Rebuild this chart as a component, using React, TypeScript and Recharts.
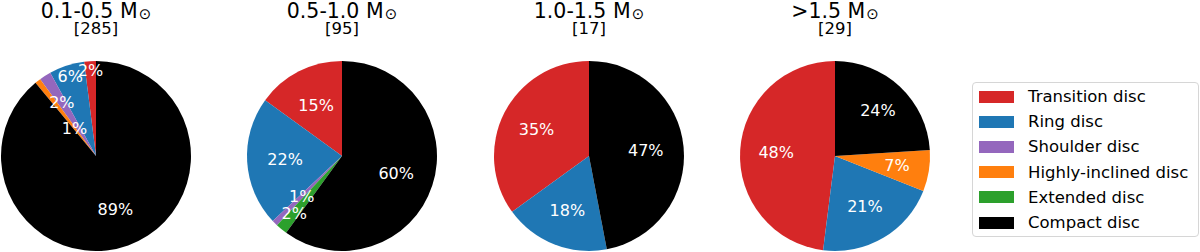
import { Cell, Pie, PieChart } from 'recharts';

const categories = [
  'Transition disc',
  'Ring disc',
  'Shoulder disc',
  'Highly-inclined disc',
  'Extended disc',
  'Compact disc',
];
const colors = ['#d62728', '#1f77b4', '#9467bd', '#ff7f0e', '#2ca02c', '#000000'];

const massBins = ['0.1-0.5', '0.5-1.0', '1.0-1.5', '>1.5'];
const sampleSizes = [285, 95, 17, 29];

// percentages per mass bin, same order as categories
const bin1 = [2, 6, 2, 1, 0, 89];
const bin2 = [15, 22, 1, 0, 2, 60];
const bin3 = [35, 18, 0, 0, 0, 47];
const bin4 = [48, 21, 0, 7, 0, 24];
const bins = [bin1, bin2, bin3, bin4];

// radial position of the % labels (fraction of radius), small wedges pushed around
const labelDist = [
  [0.9, 0.88, 0.67, 0.37, 0.6, 0.6],
  [0.6, 0.6, 0.6, 0.6, 0.79, 0.6],
  [0.62, 0.62, 0.6, 0.6, 0.6, 0.6],
  [0.62, 0.62, 0.6, 0.66, 0.6, 0.66],
];

const centersX = [96, 342, 589, 835];
const CY = 156;
const R = 95;
const FONT = '"DejaVu Sans", Verdana, sans-serif';
const RAD = Math.PI / 180;

function PctLabel(props: any) {
  const { cx, cy, midAngle, outerRadius, value } = props;
  const dist = props.payload?.dist ?? props.dist ?? 0.6;
  const r = outerRadius * dist;
  const x = cx + r * Math.cos(-midAngle * RAD);
  const y = cy + r * Math.sin(-midAngle * RAD);
  return (
    <text x={x} y={y} fill="#fff" fontSize={16} fontFamily={FONT} textAnchor="middle" dominantBaseline="central">
      {`${value}%`}
    </text>
  );
}

export default function App() {
  return (
    <div style={{ position: 'absolute', left: 0, top: 0, width: 1200, height: 252, background: '#fff' }}>
      <PieChart width={1200} height={252} margin={{ top: 0, right: 0, bottom: 0, left: 0 }}>
        {bins.map((vals, i) => {
          const rows = vals
            .map((v, k) => ({ name: categories[k], value: v, color: colors[k], dist: labelDist[i][k] }))
            .filter((d) => d.value > 0);
          return (
            <Pie
              key={massBins[i]}
              data={rows}
              dataKey="value"
              nameKey="name"
              cx={centersX[i]}
              cy={CY}
              innerRadius={0}
              outerRadius={R}
              startAngle={90}
              endAngle={450}
              stroke="none"
              label={PctLabel}
              labelLine={false}
              isAnimationActive={false}
            >
              {rows.map((d) => (
                <Cell key={d.name} fill={d.color} stroke="none" />
              ))}
            </Pie>
          );
        })}
      </PieChart>

      <svg width={1200} height={252} style={{ position: 'absolute', left: 0, top: 0, pointerEvents: 'none' }}>
        {massBins.map((m, i) => (
          <g key={m} fontFamily={FONT} fill="#000" textAnchor="middle">
            <text x={centersX[i]} y={17.5} fontSize={20.5}>
              {m} M
              <tspan fontSize={15} dx={1} dy={1.5}>⊙</tspan>
            </text>
            <text x={centersX[i]} y={34} fontSize={16.5}>
              [{sampleSizes[i]}]
            </text>
          </g>
        ))}
      </svg>

      <div
        style={{
          position: 'absolute',
          left: 972,
          top: 82,
          width: 227,
          height: 155,
          border: '1px solid #d6d6d6',
          borderRadius: 4,
          boxSizing: 'border-box',
          fontFamily: FONT,
          fontSize: 16.5,
        }}
      >
        {categories.map((c, k) => (
          <div key={c} style={{ position: 'absolute', left: 0, top: 1 + k * 25.2, height: 25, display: 'flex', alignItems: 'center' }}>
            <span style={{ display: 'inline-block', width: 35, height: 12, background: colors[k], marginLeft: 6 }} />
            <span style={{ marginLeft: 14, whiteSpace: 'nowrap', color: '#000' }}>{c}</span>
          </div>
        ))}
      </div>
    </div>
  );
}
